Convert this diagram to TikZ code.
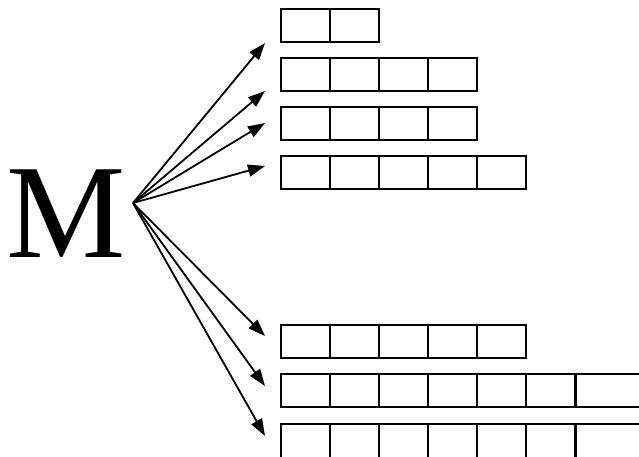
\documentclass[tikz,border=0pt]{standalone}
\usepackage{fontspec}
\setmainfont{Liberation Serif}
\usetikzlibrary{arrows.meta}
\begin{document}
\begin{tikzpicture}[x=1pt,y=-1pt,
  cell/.style={draw,line width=1.6pt,minimum width=49pt,minimum height=33pt,inner sep=0pt,outer sep=0pt,anchor=north west},
  widecell/.style={cell,minimum width=80pt},
  arr/.style={line width=1.8pt,-{Triangle[length=17pt,width=12pt]}}]
\useasboundingbox (0,0) rectangle (639,456);
\fill[white] (0,0) rectangle (639,456);
% letter
\node[font=\fontsize{134}{134}\selectfont, inner sep=0pt, anchor=base west] (M) at (6,257) {M};
% cells
\foreach \r/\y/\n in {1/9/2, 2/58/4, 3/107/4, 4/156/5, 5/325/5} {
  \foreach \c in {1,...,\n} {
    \node[cell] (r\r c\c) at ({281+49*(\c-1)},\y) {};
  }
}
\foreach \c in {1,...,6} {
  \node[cell] (r6c\c) at ({281+49*(\c-1)},374) {};
  \node[cell,minimum height=45pt] (r7c\c) at ({281+49*(\c-1)},424) {};
}
\node[widecell] (r6c7) at (576,374) {};
\node[widecell,minimum height=45pt] (r7c7) at (576,424) {};
% arrows
\coordinate (o) at (133,203);
\coordinate (t1) at (265,43);
\coordinate (t2) at (265,91);
\coordinate (t3) at (265,123);
\coordinate (t4) at (265,166);
\coordinate (t5) at (265,336);
\coordinate (t6) at (265,386);
\coordinate (t7) at (265,436);
\foreach \i in {1,...,7} \draw[arr] (o) -- (t\i);
\end{tikzpicture}
\end{document}
